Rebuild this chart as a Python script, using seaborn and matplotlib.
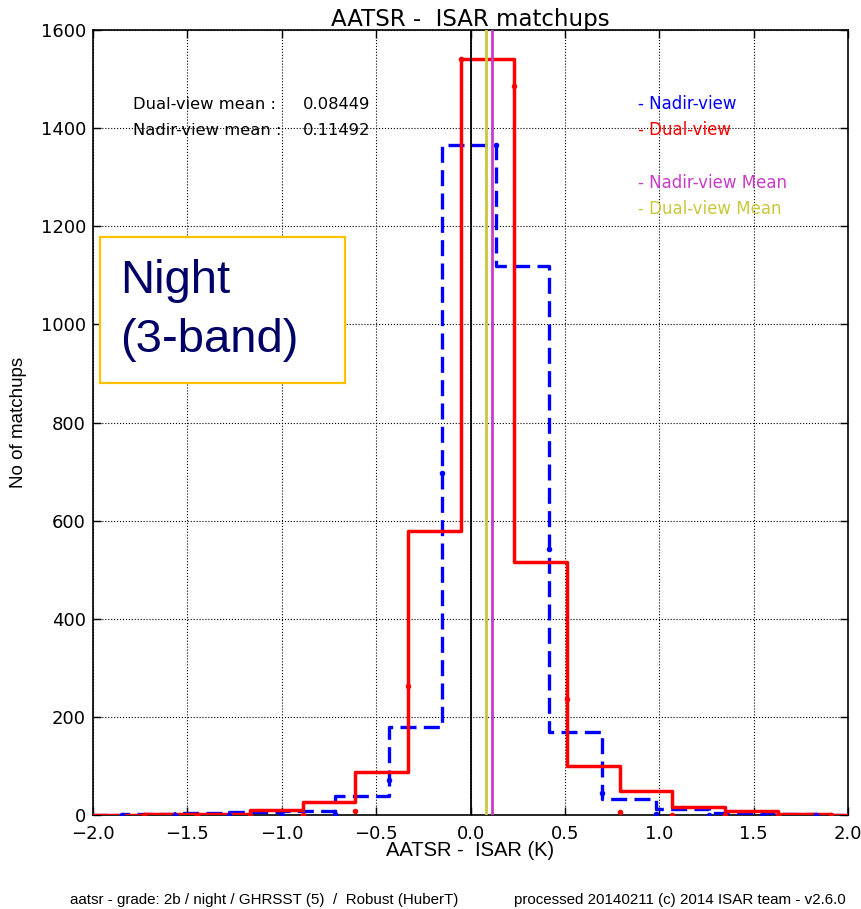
import numpy as np
import matplotlib
matplotlib.use("Agg")
import matplotlib.pyplot as plt
import seaborn as sns
from matplotlib.patches import Rectangle

# ---------------- data ----------------
red_edges = [-2.01, -1.73, -1.45, -1.17, -0.89, -0.61, -0.33, -0.05, 0.23,
             0.51, 0.79, 1.07, 1.35, 1.63, 1.91, 2.19]
red_counts = [1, 2, 3, 10, 27, 88, 579, 1541, 516, 100, 48, 16, 8, 3, 1]

blue_edges = [-2.131, -1.848, -1.565, -1.282, -0.999, -0.716, -0.433, -0.15,
              0.133, 0.416, 0.699, 0.982, 1.265, 1.548, 1.831, 2.114]
blue_counts = [1, 2, 5, 7, 9, 39, 179, 1365, 1120, 170, 33, 12, 4, 3, 1]

red_fit_x = [-1.73, -1.45, -1.17, -0.89, -0.61, -0.33, -0.05, 0.23, 0.51,
             0.79, 1.07, 1.35, 1.63, 1.91]
red_fit_y = [0, 0, 0, 1, 8, 263, 1541, 1485, 236, 7, 1, 0, 0, 0]

blue_fit_x = [-1.848, -1.565, -1.282, -0.999, -0.716, -0.433, -0.15, 0.133,
              0.416, 0.699, 0.982, 1.265, 1.548, 1.831]
blue_fit_y = [0, 0, 0, 1, 3, 71, 697, 1365, 542, 45, 2, 0, 0, 0]

dual_mean = 0.08449
nadir_mean = 0.11492

x_ticks = [-2.0, -1.5, -1.0, -0.5, 0.0, 0.5, 1.0, 1.5, 2.0]
y_ticks = [0, 200, 400, 600, 800, 1000, 1200, 1400, 1600]

RED = "#ff0000"
BLUE = "#0000ff"
MAG = "#c83cc8"
YEL = "#c8c83c"

# ---------------- figure ----------------
W, H = 862, 909
fig = plt.figure(figsize=(W / 100, H / 100), dpi=100)
ax = fig.add_axes([93 / W, 1 - 815 / H, 755 / W, 785 / H])

red_centers = [(a + b) / 2 for a, b in zip(red_edges[:-1], red_edges[1:])]
blue_centers = [(a + b) / 2 for a, b in zip(blue_edges[:-1], blue_edges[1:])]

sns.histplot(x=blue_centers, weights=blue_counts, bins=blue_edges,
             element="step", fill=False, color=BLUE, linewidth=2.4,
             linestyle=(0, (4.8, 2.2)), ax=ax, zorder=3)
sns.histplot(x=red_centers, weights=red_counts, bins=red_edges,
             element="step", fill=False, color=RED, linewidth=2.5,
             ax=ax, zorder=4)

sns.scatterplot(x=blue_fit_x, y=blue_fit_y, color=BLUE, s=16, linewidth=0,
                ax=ax, zorder=5)
sns.scatterplot(x=red_fit_x, y=red_fit_y, color=RED, s=16, linewidth=0,
                ax=ax, zorder=5)

ax.axvline(0.0, color="black", linewidth=1.3, zorder=6)
ax.axvline(dual_mean, color=YEL, linewidth=2.0, zorder=6)
ax.axvline(nadir_mean, color=MAG, linewidth=2.0, zorder=6)

ax.set_xlim(-2.0, 2.0)
ax.set_ylim(0, 1600)
ax.set_xticks(x_ticks)
ax.set_yticks(y_ticks)
ax.grid(True, color="black", linestyle=":", linewidth=0.8)
ax.set_axisbelow(True)
ax.tick_params(direction="in", top=True, right=True, length=6, width=1,
               labelsize=13)
ax.tick_params(axis="y", pad=5)
ax.tick_params(axis="x", pad=7)
for sp in ax.spines.values():
    sp.set_linewidth(1.2)
    sp.set_color("black")

ax.set_title("AATSR -  ISAR matchups", fontsize=16.5, pad=3)
ax.set_xlabel("AATSR -  ISAR (K)", fontsize=14.5, family="Liberation Sans",
              labelpad=-1)
ax.set_ylabel("No of matchups", fontsize=13.5, family="Liberation Sans")
ax.yaxis.set_label_coords(-0.088, 0.50)

# statistics text
ax.text(-1.79, 1449, "Dual-view mean :", fontsize=11.8, va="center")
ax.text(-0.89, 1449, "0.08449", fontsize=11.8, va="center")
ax.text(-1.79, 1396, "Nadir-view mean :", fontsize=11.8, va="center")
ax.text(-0.89, 1396, "0.11492", fontsize=11.8, va="center")

# legend-like labels
ax.text(0.887, 1449, "- Nadir-view", color=BLUE, fontsize=12, va="center")
ax.text(0.887, 1396, "- Dual-view", color=RED, fontsize=12, va="center")
ax.text(0.887, 1288, "- Nadir-view Mean", color=MAG, fontsize=12, va="center")
ax.text(0.887, 1235, "- Dual-view Mean", color=YEL, fontsize=12, va="center")

# Night box overlay
fig.add_artist(Rectangle((100 / W, 1 - 383 / H), 245 / W, 146 / H,
                         transform=fig.transFigure, facecolor="white",
                         edgecolor="#ffc000", linewidth=1.6, zorder=10))
fig.text(120 / W, 1 - 293 / H, "Night", fontsize=34, color="#000066",
         family="Liberation Sans", va="baseline", zorder=11)
fig.text(120 / W, 1 - 352 / H, "(3-band)", fontsize=34, color="#000066",
         family="Liberation Sans", va="baseline", zorder=11)

# footer
fig.text(70 / W, 1 - 900 / H,
         "aatsr - grade: 2b / night / GHRSST (5)  /  Robust (HuberT)",
         fontsize=10.9, family="Liberation Sans", va="center")
fig.text(514 / W, 1 - 900 / H,
         "processed 20140211 (c) 2014 ISAR team - v2.6.0",
         fontsize=10.9, family="Liberation Sans", va="center")

fig.savefig("out.png", dpi=100)
